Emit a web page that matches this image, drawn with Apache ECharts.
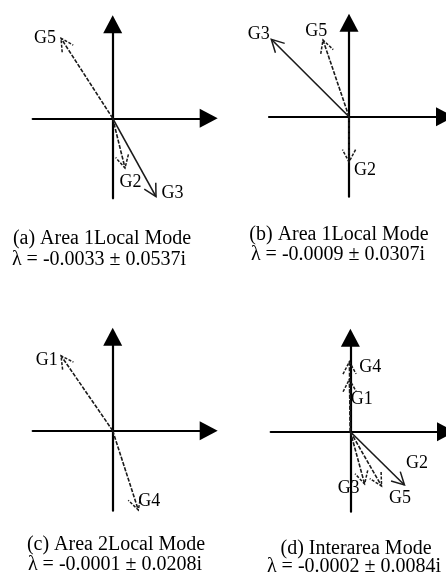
<!DOCTYPE html>
<html>
<head>
<meta charset="utf-8">
<script src="https://cdn.jsdelivr.net/npm/echarts@6/dist/echarts.min.js"></script>
<style>
html,body{margin:0;padding:0;background:#fff;}
#chart{width:446px;height:579px;}
</style>
</head>
<body>
<div id="chart"></div>
<script>
// ---- data ----
const captions = ['(a) Area 1Local Mode', '(b) Area 1Local Mode', '(c) Area 2Local Mode', '(d) Interarea Mode'];
const eigenvalues = ['λ = -0.0033 ± 0.0537i', 'λ = -0.0009 ± 0.0307i', 'λ = -0.0001 ± 0.0208i', 'λ = -0.0002 ± 0.0084i'];
// mode-shape vectors (real, imag) per panel
const namesA = ['G5', 'G2', 'G3'];
const realA = [-0.517, 0.123, 0.433];
const imagA = [0.800, -0.497, -0.784];
const namesB = ['G3', 'G5', 'G2'];
const realB = [-0.777, -0.260, 0.0];
const imagB = [0.774, 0.767, -0.453];
const namesC = ['G1', 'G4'];
const realC = [-0.517, 0.256];
const imagC = [0.750, -0.793];
const namesD = ['G4', 'G1', 'G3', 'G5', 'G2'];
const realD = [-0.01, -0.01, 0.143, 0.313, 0.543];
const imagD = [0.700, 0.524, -0.523, -0.543, -0.533];
const axisMin = -0.8, xMax = 0.96, yMax = 0.94;

// ---- layout / style (not data) ----
const gridPos = [
  {left: 32.7, top: 24.3},
  {left: 269, top: 22.7},
  {left: 32.7, top: 336.7},
  {left: 270.7, top: 337.7}
];
const captionPos = [
  [[102, 239], [99, 259.5]],
  [[339, 235], [338, 255]],
  [[116, 544.6], [115, 564.7]],
  [[356, 548.5], [354, 567]]
];
const labelOffsets = [
  {G5: [-16, 0], G2: [5.5, 14.5], G3: [16.5, -3.4]},
  {G3: [-12.5, -5], G5: [-6.7, -9.2], G2: [16, 8]},
  {G1: [-14.3, 4.3], G4: [11, -9.2]},
  {G4: [20.8, 5.8], G1: [12.3, 19.7], G3: [-16, 4], G5: [18.5, 12], G2: [12.5, -21.5]}
];
const solidSet = [
  {G3: true},
  {G3: true},
  {},
  {G2: true}
];

const panels = [
  [namesA, realA, imagA],
  [namesB, realB, imagB],
  [namesC, realC, imagC],
  [namesD, realD, imagD]
];

const SERIF = '"Liberation Serif", "Times New Roman", serif';

function makeRender(pi) {
  return function (params, api) {
    const p0 = api.coord([0, 0]);
    const p1 = api.coord([api.value(0), api.value(1)]);
    const name = panels[pi][0][params.dataIndex];
    let dx = p0[0] - p1[0], dy = p0[1] - p1[1];
    const len = Math.sqrt(dx * dx + dy * dy) || 1;
    dx /= len; dy /= len;
    const ang = 28 * Math.PI / 180, al = 14;
    const c = Math.cos(ang), s = Math.sin(ang);
    const a1 = [p1[0] + al * (dx * c - dy * s), p1[1] + al * (dx * s + dy * c)];
    const a2 = [p1[0] + al * (dx * c + dy * s), p1[1] + al * (-dx * s + dy * c)];
    const solid = !!solidSet[pi][name];
    const off = labelOffsets[pi][name] || [0, 0];
    const stroke = '#1a1a1a';
    return {
      type: 'group',
      children: [
        {type: 'line', shape: {x1: p0[0], y1: p0[1], x2: p1[0], y2: p1[1]},
         style: {stroke: stroke, lineWidth: 1.6, lineDash: solid ? null : [4, 1.5]}},
        {type: 'polyline', shape: {points: [a1, p1, a2]},
         style: {stroke: stroke, lineWidth: 1.5, fill: null, lineDash: solid ? null : [3, 1.5]}},
        {type: 'text', x: p1[0] + off[0], y: p1[1] + off[1],
         style: {text: name, font: '18px ' + SERIF, align: 'center', verticalAlign: 'middle',
                 textAlign: 'center', textVerticalAlign: 'middle', fill: '#000'}}
      ]
    };
  };
}

const grids = [], xAxes = [], yAxes = [], series = [], graphics = [];
for (let i = 0; i < 4; i++) {
  grids.push({left: gridPos[i].left, top: gridPos[i].top, width: 176, height: 174, containLabel: false});
  const axisLine = {
    show: true, onZero: true,
    symbol: ['none', 'triangle'], symbolSize: [19, 18],
    lineStyle: {color: '#000', width: 2.2}
  };
  xAxes.push({type: 'value', gridIndex: i, min: axisMin, max: xMax, axisLine: axisLine,
    axisTick: {show: false}, axisLabel: {show: false}, splitLine: {show: false}});
  yAxes.push({type: 'value', gridIndex: i, min: axisMin, max: yMax, axisLine: axisLine,
    axisTick: {show: false}, axisLabel: {show: false}, splitLine: {show: false}});
  const d = panels[i][1].map((v, k) => [v, panels[i][2][k]]);
  series.push({
    type: 'custom', xAxisIndex: i, yAxisIndex: i, clip: false, silent: true,
    renderItem: makeRender(i), data: d, z: 5
  });
  graphics.push({type: 'text', x: captionPos[i][0][0], y: captionPos[i][0][1],
    style: {text: captions[i], font: '20px ' + SERIF, align: 'center', verticalAlign: 'middle',
            textAlign: 'center', textVerticalAlign: 'middle', fill: '#000'}});
  graphics.push({type: 'text', x: captionPos[i][1][0], y: captionPos[i][1][1],
    style: {text: eigenvalues[i], font: '20px ' + SERIF, align: 'center', verticalAlign: 'middle',
            textAlign: 'center', textVerticalAlign: 'middle', fill: '#000'}});
}

const chart = echarts.init(document.getElementById('chart'), null, {renderer: 'canvas'});
chart.setOption({
  backgroundColor: '#fff',
  animation: false,
  grid: grids,
  xAxis: xAxes,
  yAxis: yAxes,
  series: series,
  graphic: graphics
});
</script>
</body>
</html>
